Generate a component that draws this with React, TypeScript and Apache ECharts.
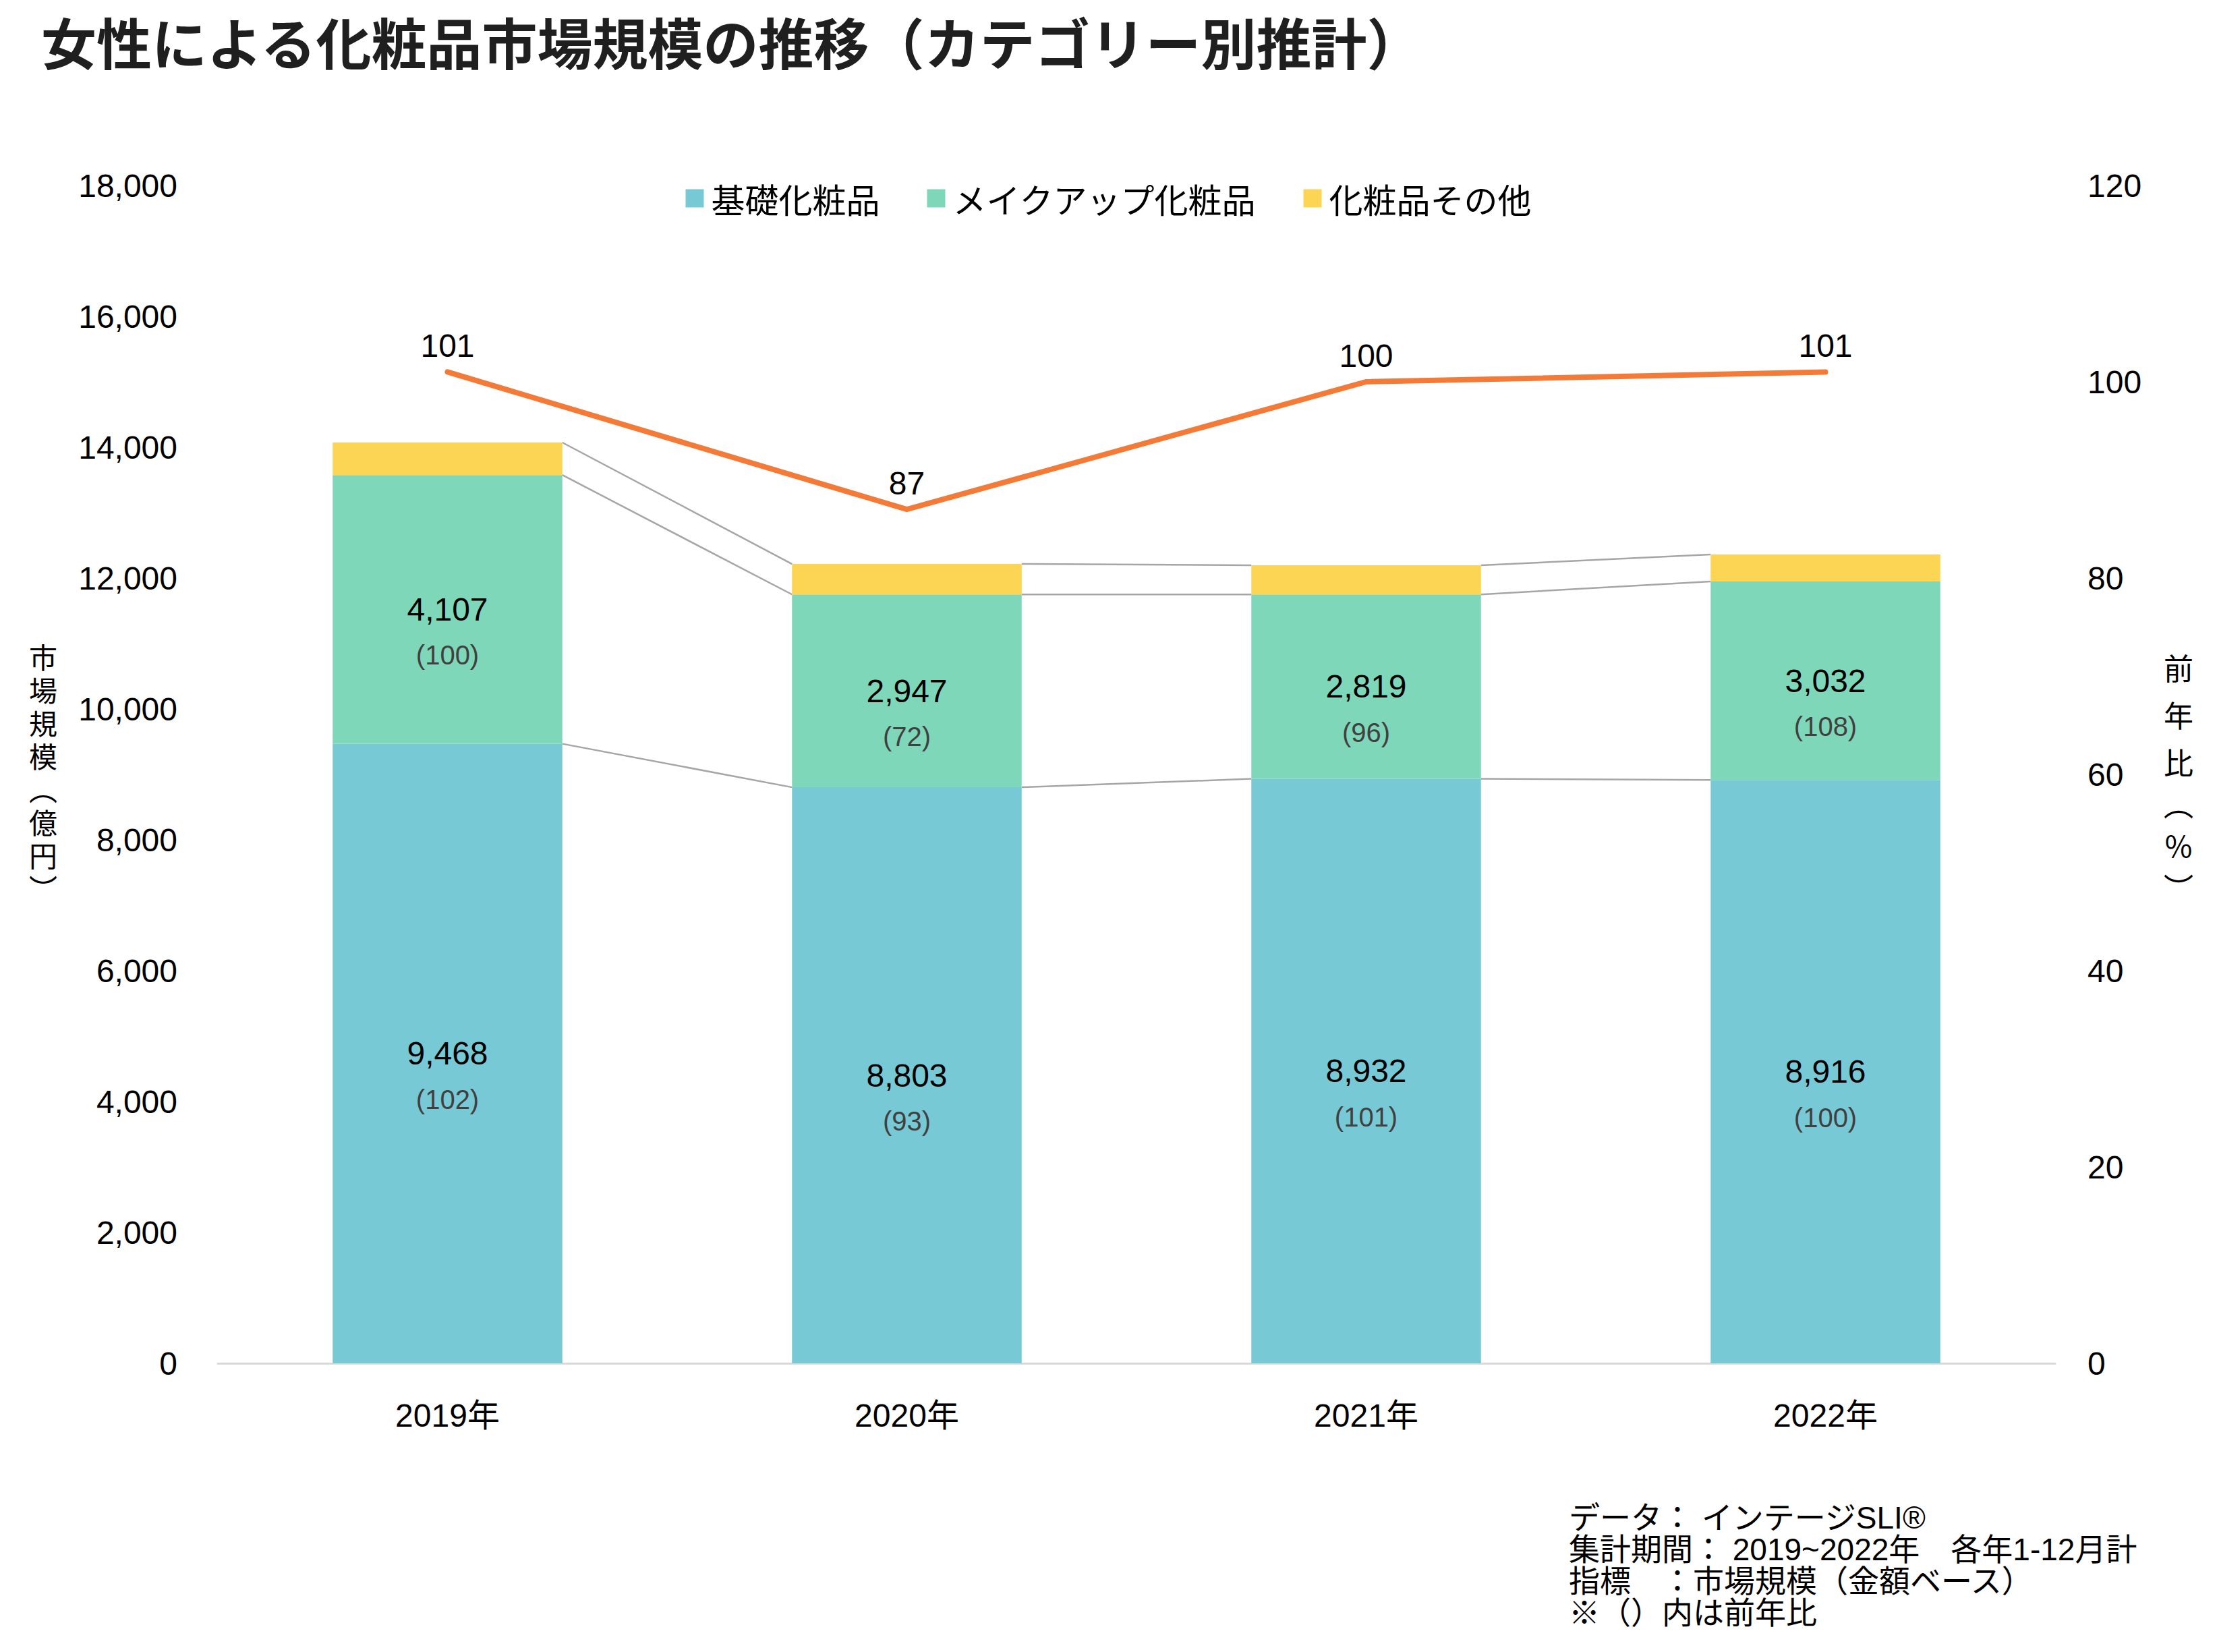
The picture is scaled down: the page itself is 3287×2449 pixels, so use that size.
import React, { useEffect, useRef } from "react";
import * as echarts from "echarts";

const titleText = "女性による化粧品市場規模の推移（カテゴリー別推計）";
const categories = ["2019年", "2020年", "2021年", "2022年"];
const seriesNames = ["基礎化粧品", "メイクアップ化粧品", "化粧品その他"];
const basicValues = [9468, 8803, 8932, 8916];
const basicYoY = [102, 93, 101, 100];
const makeupValues = [4107, 2947, 2819, 3032];
const makeupYoY = [100, 72, 96, 108];
const otherValues = [497, 466, 445, 413];
const totalYoY = [101, 87, 100, 101];
const lineName = "前年比";
const leftAxisName = ["市", "場", "規", "模", "︵", "億", "円", "︶"];
const rightAxisName = ["前", "年", "比", "︵", "％", "︶"];
const leftAxisMax = 18000;
const leftAxisInterval = 2000;
const rightAxisMax = 120;
const rightAxisInterval = 20;
const footnotes = [
  "データ： インテージSLI®",
  "集計期間： 2019~2022年　各年1-12月計",
  "指標　：市場規模（金額ベース）",
  "※（）内は前年比",
];

const COLORS = ["#78C9D6", "#7FD7B9", "#FDD555"];
const LINE_COLOR = "#F47A38";
const LATIN = "'Liberation Sans', Arial, 'Noto Sans CJK JP', sans-serif";
const CJK = "'Noto Sans CJK JP', 'Liberation Sans', sans-serif";
const BAR_RATIO = 0.5;

const fmt = (v: number) => v.toLocaleString("en-US");
const isParen = (c: string) => c === "︵" || c === "︶";
const verticalName = (chars: string[]) =>
  chars.map((c) => (isParen(c) ? `{p|${c}}` : `{c|${c}}`)).join("\n");

export default function App() {
  const ref = useRef<HTMLDivElement>(null);

  useEffect(() => {
    document.body.style.margin = "0";
    if (!ref.current) return;
    const chart = echarts.init(ref.current, undefined, { renderer: "svg" });

    const layers = [basicValues, makeupValues, otherValues];
    const cumulative = categories.map((_, i) => {
      let s = 0;
      return layers.map((layer) => (s += layer[i]));
    });

    const barLabel = (yoy: number[]) => ({
      show: true,
      position: "inside",
      offset: [0, 34],
      formatter: (p: any) => `{v|${fmt(p.value)}}\n{p|(${yoy[p.dataIndex]})}`,
      rich: {
        v: { fontSize: 48, lineHeight: 68, color: "#000000", fontFamily: LATIN },
        p: { fontSize: 40, lineHeight: 68, color: "#404040", fontFamily: LATIN },
      },
    });

    const option: any = {
      animation: false,
      backgroundColor: "#ffffff",
      title: {
        text: titleText,
        left: 56,
        top: 10,
        textStyle: {
          fontSize: 82,
          fontWeight: "bold",
          color: "#1f1f1f",
          fontFamily: CJK,
          lineHeight: 90,
        },
      },
      legend: {
        data: seriesNames,
        left: "center",
        top: 264,
        icon: "rect",
        itemWidth: 27,
        itemHeight: 27,
        itemGap: 70,
        textStyle: {
          fontSize: 50,
          color: "#000000",
          fontFamily: CJK,
          padding: [0, 0, 0, 6],
        },
      },
      grid: { left: 323, right: 240, top: 275, bottom: 428, containLabel: false },
      xAxis: {
        type: "category",
        data: categories,
        axisLine: { show: true, lineStyle: { color: "#D9D9D9", width: 3 } },
        axisTick: { show: false },
        axisLabel: { fontSize: 48, color: "#000000", margin: 53, fontFamily: LATIN },
      },
      yAxis: [
        {
          type: "value",
          min: 0,
          max: leftAxisMax,
          interval: leftAxisInterval,
          name: verticalName(leftAxisName),
          nameLocation: "middle",
          nameRotate: 0,
          nameGap: 238,
          nameTextStyle: {
            fontSize: 42,
            color: "#000000",
            fontFamily: LATIN,
            rich: {
              c: { fontSize: 42, lineHeight: 49, fontFamily: LATIN, color: "#000000" },
              p: { fontSize: 42, lineHeight: 49, fontFamily: LATIN, color: "#000000", width: 42, align: "center" },
            },
          },
          axisLine: { show: false },
          axisTick: { show: false },
          splitLine: { show: false },
          axisLabel: {
            fontSize: 48,
            color: "#000000",
            margin: 60,
            fontFamily: LATIN,
            formatter: (v: number) => fmt(v),
          },
        },
        {
          type: "value",
          min: 0,
          max: rightAxisMax,
          interval: rightAxisInterval,
          name: verticalName(rightAxisName),
          nameLocation: "middle",
          nameRotate: 0,
          nameGap: 161,
          nameTextStyle: {
            fontSize: 44,
            color: "#000000",
            fontFamily: CJK,
            rich: {
              c: { fontSize: 44, lineHeight: 70, fontFamily: CJK, color: "#000000" },
              p: { fontSize: 44, lineHeight: 54, fontFamily: CJK, color: "#000000", width: 44, align: "center" },
            },
          },
          axisLine: { show: false },
          axisTick: { show: false },
          splitLine: { show: false },
          axisLabel: { fontSize: 48, color: "#000000", margin: 48, fontFamily: LATIN },
        },
      ],
      series: [
        {
          name: seriesNames[0],
          type: "bar",
          stack: "total",
          data: basicValues,
          barCategoryGap: `${(1 - BAR_RATIO) * 100}%`,
          itemStyle: { color: COLORS[0] },
          label: barLabel(basicYoY),
        },
        {
          name: seriesNames[1],
          type: "bar",
          stack: "total",
          data: makeupValues,
          itemStyle: { color: COLORS[1] },
          label: barLabel(makeupYoY),
        },
        {
          name: seriesNames[2],
          type: "bar",
          stack: "total",
          data: otherValues,
          itemStyle: { color: COLORS[2] },
          label: { show: false },
        },
        {
          type: "custom",
          name: "connectors",
          silent: true,
          xAxisIndex: 0,
          yAxisIndex: 0,
          data: categories.slice(0, -1).map((_, i) => [i, cumulative[i][0]]),
          encode: { x: 0, y: 1 },
          renderItem: (params: any, api: any) => {
            const i = api.value(0);
            const band = api.size([1, 0])[0];
            const half = (band * BAR_RATIO) / 2;
            const children = cumulative[i].map((v, k) => {
              const p1 = api.coord([i, v]);
              const p2 = api.coord([i + 1, cumulative[i + 1][k]]);
              return {
                type: "line",
                shape: { x1: p1[0] + half, y1: p1[1], x2: p2[0] - half, y2: p2[1] },
                style: { stroke: "#A6A6A6", lineWidth: 2.5 },
              };
            });
            return { type: "group", children };
          },
          z: 1,
        },
        {
          name: lineName,
          type: "line",
          yAxisIndex: 1,
          data: totalYoY,
          symbol: "circle",
          symbolSize: 1,
          itemStyle: { color: LINE_COLOR },
          lineStyle: { color: LINE_COLOR, width: 8, cap: "round", join: "miter" },
          label: {
            show: true,
            position: "top",
            distance: 14,
            fontSize: 48,
            color: "#000000",
            fontFamily: LATIN,
          },
          z: 5,
        },
      ],
      graphic: [
        {
          type: "text",
          left: 2326,
          top: 2226,
          style: {
            text: footnotes.join("\n"),
            fontSize: 46,
            lineHeight: 47,
            fill: "#000000",
            fontFamily: LATIN,
          },
        },
      ],
    };

    chart.setOption(option);
    return () => chart.dispose();
  }, []);

  return <div ref={ref} style={{ width: 3287, height: 2449 }} />;
}
